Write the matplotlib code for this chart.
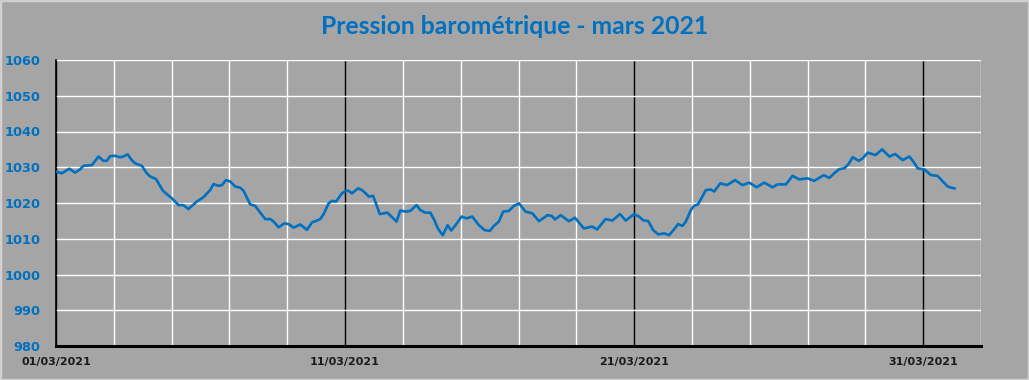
import matplotlib
matplotlib.use("Agg")
import matplotlib.pyplot as plt
import matplotlib.dates as mdates
from matplotlib.patches import Rectangle
import pandas as pd

# ---- data (days since 01/03/2021 00:00, pressure in hPa) ----
days = [0.00, 0.20, 0.46, 0.66, 0.83, 0.95, 1.24, 1.47, 1.64, 1.76, 1.87, 2.04, 2.22, 2.33,
        2.48, 2.62, 2.74, 2.97, 3.14, 3.26, 3.46, 3.70, 4.01, 4.24, 4.41, 4.58, 4.87, 5.10,
        5.33, 5.45, 5.62, 5.74, 5.88, 6.03, 6.20, 6.37, 6.49, 6.72, 6.89, 7.00, 7.24, 7.41,
        7.53, 7.70, 7.90, 8.05, 8.22, 8.45, 8.68, 8.86, 9.03, 9.14, 9.26, 9.43, 9.55, 9.69,
        9.89, 10.03, 10.12, 10.24, 10.45, 10.59, 10.70, 10.82, 10.97, 11.09, 11.20, 11.34,
        11.46, 11.63, 11.78, 11.91, 12.09, 12.26, 12.47, 12.61, 12.78, 12.95, 13.09, 13.21,
        13.38, 13.55, 13.67, 13.82, 14.03, 14.20, 14.40, 14.63, 14.83, 15.01, 15.15, 15.32,
        15.47, 15.67, 15.84, 16.02, 16.24, 16.48, 16.71, 17.00, 17.15, 17.26, 17.46, 17.75,
        17.95, 18.26, 18.55, 18.72, 19.01, 19.25, 19.51, 19.71, 20.00, 20.17, 20.31, 20.49,
        20.66, 20.84, 21.04, 21.21, 21.38, 21.52, 21.67, 21.79, 21.96, 22.07, 22.21, 22.36,
        22.48, 22.65, 22.77, 22.98, 23.21, 23.49, 23.75, 23.98, 24.24, 24.50, 24.79, 24.96,
        25.25, 25.48, 25.71, 26.00, 26.23, 26.56, 26.75, 26.92, 27.10, 27.27, 27.42, 27.56,
        27.77, 27.91, 28.08, 28.35, 28.58, 28.83, 29.03, 29.29, 29.52, 29.66, 29.81, 30.04,
        30.27, 30.50, 30.68, 30.85, 30.97, 31.08]
pressure = [1028.8, 1028.3, 1029.6, 1028.5, 1029.4, 1030.4, 1030.6, 1033.0, 1031.8, 1031.8,
            1033.1, 1033.2, 1032.8, 1033.0, 1033.6, 1032.0, 1031.1, 1030.4, 1028.3, 1027.4,
            1026.7, 1023.4, 1021.3, 1019.4, 1019.4, 1018.3, 1020.4, 1021.6, 1023.6, 1025.3,
            1024.8, 1025.0, 1026.4, 1026.0, 1024.6, 1024.3, 1023.4, 1019.6, 1019.2, 1018.0,
            1015.5, 1015.5, 1014.8, 1013.2, 1014.3, 1014.1, 1013.1, 1014.0, 1012.5, 1014.6,
            1015.1, 1015.5, 1016.9, 1019.9, 1020.6, 1020.4, 1022.7, 1023.4, 1023.4, 1022.7,
            1024.1, 1023.6, 1022.8, 1021.8, 1022.0, 1019.4, 1016.9, 1017.1, 1017.3, 1016.0,
            1014.8, 1017.9, 1017.6, 1017.8, 1019.4, 1018.0, 1017.3, 1017.3, 1015.2, 1012.9,
            1011.0, 1013.8, 1012.3, 1013.8, 1016.2, 1015.7, 1016.2, 1013.8, 1012.4, 1012.2,
            1013.6, 1014.8, 1017.6, 1017.8, 1019.2, 1019.9, 1017.6, 1017.1, 1014.9, 1016.6,
            1016.4, 1015.4, 1016.6, 1014.9, 1015.9, 1012.9, 1013.4, 1012.6, 1015.5, 1015.1,
            1016.9, 1015.1, 1016.9, 1016.2, 1015.2, 1014.9, 1012.4, 1011.2, 1011.5, 1011.0,
            1012.6, 1014.1, 1013.6, 1014.8, 1018.0, 1019.2, 1019.6, 1021.8, 1023.6, 1023.8,
            1023.2, 1025.5, 1025.0, 1026.4, 1025.0, 1025.7, 1024.4, 1025.7, 1024.4, 1025.2,
            1025.2, 1027.6, 1026.6, 1026.9, 1026.2, 1027.8, 1027.0, 1028.3, 1029.5, 1029.7,
            1030.9, 1032.8, 1031.8, 1032.5, 1034.1, 1033.4, 1035.0, 1033.0, 1033.7, 1032.0,
            1033.0, 1031.6, 1029.7, 1029.4, 1027.8, 1027.6, 1026.0, 1024.6, 1024.3, 1024.1]

start = pd.Timestamp("2021-03-01")
major_dates = ["2021-03-01", "2021-03-11", "2021-03-21", "2021-03-31"]
y_ticks = [980, 990, 1000, 1010, 1020, 1030, 1040, 1050, 1060]
title = "Pression barométrique - mars 2021"

BG = "#A5A5A5"
BLUE = "#0070C0"

times = start + pd.to_timedelta(days, unit="D")

fig = plt.figure(figsize=(10.29, 3.80), dpi=100, facecolor=BG)
W, H = 1029, 380
ax = fig.add_axes([56 / W, 1 - 346 / H, (981 - 56) / W, (346 - 60) / H])
ax.set_facecolor(BG)

ax.plot(times, pressure, color=BLUE, lw=1.9, zorder=3, solid_joinstyle="round")

ax.set_ylim(980, 1060)
ax.set_yticks(y_ticks)
ax.set_xlim(start, start + pd.Timedelta(days=32))

major = [mdates.date2num(pd.Timestamp(d)) for d in major_dates]
minor = [mdates.date2num(start + pd.Timedelta(days=k)) for k in range(0, 33, 2)]
minor = [m for m in minor if m not in major]
ax.set_xticks(major)
ax.set_xticks(minor, minor=True)
ax.xaxis.set_major_formatter(mdates.DateFormatter("%d/%m/%Y"))

ax.grid(True, which="major", axis="y", color="white", lw=1.0, zorder=1)
ax.grid(True, which="minor", axis="x", color="white", lw=1.0, zorder=1)
ax.grid(True, which="major", axis="x", color="black", lw=1.0, zorder=2)

for s in ["top", "right"]:
    ax.spines[s].set_visible(False)
ax.spines["left"].set_color("black")
ax.spines["left"].set_linewidth(1.2)
ax.spines["bottom"].set_color("black")
ax.spines["bottom"].set_linewidth(2.2)
ax.spines["bottom"].set_zorder(4)

ax.tick_params(axis="both", which="both", length=0)
ax.tick_params(axis="y", pad=11)
ax.tick_params(axis="x", pad=8)
for lab in ax.get_yticklabels():
    lab.set_fontfamily("DejaVu Sans")
    lab.set_fontweight("bold")
    lab.set_fontsize(9.3)
    lab.set_color(BLUE)
for lab in ax.get_xticklabels():
    lab.set_fontfamily("DejaVu Sans")
    lab.set_fontweight("bold")
    lab.set_fontsize(8)
    lab.set_color("#1A1A1A")

fig.text(515 / W, 1 - 27 / H, title, ha="center", va="center",
         fontfamily="Lato", fontweight="bold", fontsize=17.8, color=BLUE)

fig.patches.append(Rectangle((0, 0), 1, 1, transform=fig.transFigure, fill=False,
                             edgecolor="#D0D0D0", lw=2.5, zorder=10))

fig.savefig("out.png", dpi=100, facecolor=BG)
